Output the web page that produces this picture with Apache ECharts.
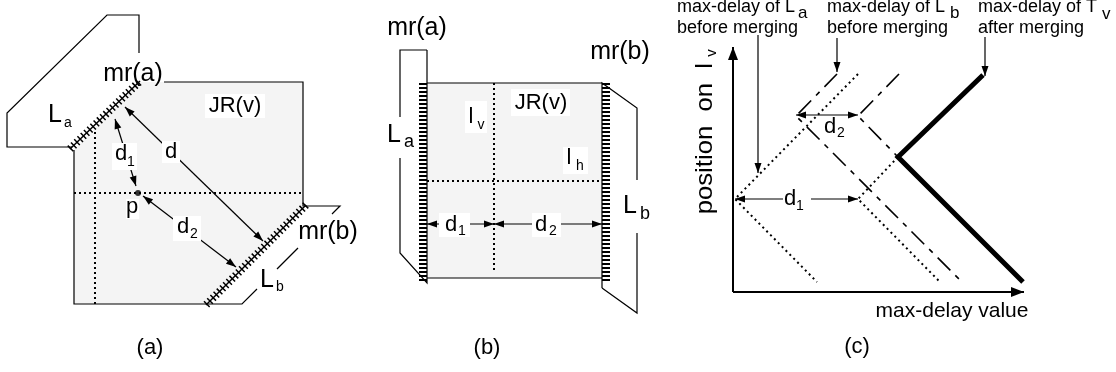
<!DOCTYPE html>
<html><head><meta charset="utf-8">
<script src="https://cdn.jsdelivr.net/npm/echarts@6/dist/echarts.min.js"></script>
<style>html,body{margin:0;padding:0;background:#fff}#c{width:1116px;height:372px}</style>
</head><body><div id="c"></div>
<script>
// ================= DATA (diagram coordinates) =================
// Panel (a)
const aOutline = [
  [[139,53],[139,15],[107,15],[7,113],[7,147],[72,147]],
  [[164,82],[303,82],[303,206],[340,206],[332,214]],
  [[74,150],[74,304],[242,304],[257,289]],
  [[277,269],[298,248]]
];
const aRegion = [[74,150],[140,82],[303,82],[303,206],[207,304],[74,304]];
const aHatch = [[[70,149],[140,81]], [[306,205],[206,305]]];
const aDotted = [[[95,132],[95,304]], [[74,193],[303,193]]];
const aPoint = [[138,193]];
const aArrows = [[[115,119],[136,186]], [[125,107],[263,241]], [[143,196],[236,267]]];

// Panel (b)
const bOutline = [
  [[427,50],[400,50],[400,117]],
  [[400,158],[400,253],[427,283],[427,50]],
  [[427,83],[602,83]],
  [[427,278],[602,278]],
  [[602,288],[602,83],[637,108],[637,180]],
  [[637,233],[637,313],[602,288]]
];
const bRegion = [[427,83],[602,83],[602,278],[427,278]];
const bHatch = [[[423,83],[423,281]], [[606,83],[606,281]]];
const bDotted = [[[494,83],[494,273]], [[427,181],[602,181]]];
const bArrows = [[[427,224],[494,224]], [[494,224],[602,224]]];

// Panel (c)
const cAxes = [[[733,292],[733,47]], [[733,292],[1024,292]]];
const cLaBefore = [[858,74],[735,199],[817,282]];
const cLaShifted = [[898,157],[858,199],[940,282]];
const cLbBefore = [[837,74],[796,116],[962,282]];
const cLbShifted = [[899,74],[858,116],[898,157]];
const cTvAfter = [[983,75],[898,157],[1023,282]];
const cArrows = [[[735,199],[858,199]], [[796,115],[858,115]]];
const cPointers = [[[758,35],[758,173]], [[837,38],[837,72]], [[985,37],[985,76]]];

// White label boxes [x0,y0,x1,y1]
const whiteBoxes = [
  [112,143,137,170],[162,141,180,163],[173,216,201,241],[126,199,139,219],[205,94,265,118],
  [511,89,570,116],[465,101,487,133],[563,147,588,174],[439,213,470,237],[532,213,561,237],
  [783,188,811,212]
];

// Labels: [text, x, y, kind]
const labels = [
  ['mr(a)',133,74,'big'], ['L',55,115,'big'], ['a',68,123,'sub'],
  ['JR(v)',235,106,'jr'],
  ['d',121,154,'lab'], ['1',131,162,'sub'],
  ['d',171,152,'lab'],
  ['p',132,207,'lab'],
  ['d',183,227,'lab'], ['2',194,234,'sub'],
  ['mr(b)',328,232,'big'], ['L',267,280,'big'], ['b',280,287,'sub'],
  ['(a)',150,348,'cap'],

  ['mr(a)',417,28,'big'], ['mr(b)',620,52,'big'],
  ['L',394,135,'big'], ['a',409,142,'subL'],
  ['L',630,206,'big'], ['b',645,214,'subL'],
  ['JR(v)',541,103,'jr'],
  ['l',471,117,'lab'], ['v',481,125,'sub'],
  ['l',569,158,'lab'], ['h',580,166,'sub'],
  ['d',451,225,'lab'], ['1',462,231,'sub'],
  ['d',541,225,'lab'], ['2',553,231,'sub'],
  ['(b)',487,348,'cap'],

  ['max-delay of L',795,7,'annR'], ['a',798,13,'annSub'],
  ['before merging',677,28,'ann'],
  ['max-delay of L',827,7,'ann'], ['b',950,13,'annSub'],
  ['before merging',827,28,'ann'],
  ['max-delay of T',978,7,'ann'], ['v',1102,14,'annSub'],
  ['after merging',978,28,'ann'],
  ['max-delay value',952,311,'axis'],
  ['position  on  l',705,63,'vert'], ['v',712,53,'vertSub'],
  ['d',790,199,'lab'], ['1',800,206,'sub'],
  ['d',830,127,'lab'], ['2',841,133,'sub'],
  ['(c)',857,347,'cap']
];

// ================= STYLES =================
const FONT = '"Liberation Sans", Arial, Helvetica, sans-serif';
const kinds = {
  big:{size:25}, lab:{size:22}, jr:{size:22}, sub:{size:14}, subL:{size:18},
  cap:{size:22}, ann:{size:18, align:'left'}, annR:{size:18, align:'right'},
  annSub:{size:17, align:'left'}, axis:{size:21},
  vert:{size:24, align:'right', rotate:true, sx:1.07}, vertSub:{size:15, rotate:true}
};

function linesSeries(list, style, z){
  return {type:'lines', coordinateSystem:'cartesian2d', polyline:true, silent:true, animation:false, z:z||2,
    data: list.map(c => ({coords:c})),
    lineStyle: Object.assign({color:'#000', opacity:1, width:1.2, type:'solid', cap:'butt', join:'miter'}, style)};
}

function arrowHead(tip, from, len, half){
  const dx = tip[0]-from[0], dy = tip[1]-from[1];
  const d = Math.hypot(dx,dy) || 1; const ux = dx/d, uy = dy/d;
  const bx = tip[0]-ux*len, by = tip[1]-uy*len;
  return {type:'polygon', shape:{points:[tip,[bx-uy*half,by+ux*half],[bx+uy*half,by-ux*half]]}, style:{fill:'#000'}};
}
function arrowSeries(list, both, width, len, half){
  return {type:'custom', coordinateSystem:'cartesian2d', silent:true, animation:false, z:5,
    data: list.map((_,i)=>[i]),
    renderItem:(params, api) => {
      const seg = list[params.dataIndex];
      const p0 = api.coord(seg[0]), p1 = api.coord(seg[1]);
      const children = [
        {type:'line', shape:{x1:p0[0],y1:p0[1],x2:p1[0],y2:p1[1]}, style:{stroke:'#000', lineWidth:width}},
        arrowHead(p1, p0, len, half)
      ];
      if (both) children.push(arrowHead(p0, p1, len, half));
      return {type:'group', children};
    }};
}

const regions = [aRegion, bRegion];

const series = [
  {type:'custom', coordinateSystem:'cartesian2d', silent:true, animation:false, z:1,
    data: regions.map((_,i)=>[i]),
    renderItem:(params, api) => ({type:'polygon',
      shape:{points: regions[params.dataIndex].map(p => api.coord(p))},
      style:{fill:'#f4f4f4'}})},
  linesSeries(aOutline.concat(bOutline), {width:1.2}),
  linesSeries(aHatch, {width:8, type:[1.5,3]}),
  linesSeries(aHatch, {width:1.5}),
  linesSeries(bHatch, {width:8, type:[2,2]}),
  linesSeries(aDotted.concat(bDotted), {width:2, type:[2,3]}),
  linesSeries([cLaBefore, cLaShifted], {width:2, type:[2,3.5]}),
  linesSeries([cLbBefore, cLbShifted], {width:1.6, type:[18,7,5,7]}),
  linesSeries([cTvAfter], {width:5}),
  {type:'scatter', data:aPoint, symbol:'circle', symbolSize:6, itemStyle:{color:'#000'}, silent:true, animation:false, z:4},
  arrowSeries(aArrows.concat(bArrows), true, 1.2, 10, 3.5),
  arrowSeries(cArrows, true, 1.2, 10, 3.5),
  arrowSeries(cPointers, false, 1.2, 10, 3.5),
  arrowSeries(cAxes, false, 2, 13, 5),
  {type:'custom', coordinateSystem:'cartesian2d', silent:true, animation:false, z:6,
    data: whiteBoxes.map((_,i)=>[i]),
    renderItem:(params, api) => {
      const b = whiteBoxes[params.dataIndex];
      const p0 = api.coord([b[0],b[1]]), p1 = api.coord([b[2],b[3]]);
      return {type:'rect', shape:{x:p0[0], y:p0[1], width:p1[0]-p0[0], height:p1[1]-p0[1]}, style:{fill:'#fff'}};
    }},
  {type:'custom', coordinateSystem:'cartesian2d', silent:true, animation:false, z:7,
    data: labels.map((_,i)=>[i]),
    renderItem:(params, api) => {
      const [t,x,y,k] = labels[params.dataIndex];
      const s = kinds[k];
      const p = api.coord([x,y]);
      return {type:'text', x:p[0], y:p[1], rotation: s.rotate ? Math.PI/2 : 0, scaleX: s.sx || 1,
        style:{text:t, x:0, y:0, fontSize:s.size, fontFamily:FONT, fill:'#000',
               align:s.align || 'center', verticalAlign:'middle'}};
    }}
];

const chart = echarts.init(document.getElementById('c'), null, {renderer:'canvas'});
chart.setOption({
  animation:false,
  backgroundColor:'#fff',
  grid:{left:0, right:0, top:0, bottom:0, containLabel:false},
  xAxis:{type:'value', min:0, max:1116, show:false},
  yAxis:{type:'value', min:0, max:372, inverse:true, show:false},
  series
});
</script></body></html>
